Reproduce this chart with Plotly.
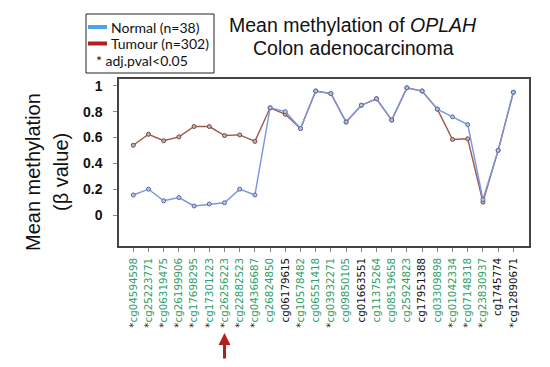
import plotly.graph_objects as go

probes = ["cg04594598", "cg25223771", "cg06319475", "cg26199906", "cg17698295",
          "cg17301223", "cg26256223", "cg22882523", "cg04366687", "cg26824850",
          "cg06179615", "cg10578482", "cg06551418", "cg03932271", "cg09850105",
          "cg01663551", "cg11375264", "cg08519658", "cg25924823", "cg17951388",
          "cg03309898", "cg01042334", "cg07148318", "cg23830937", "cg1745774",
          "cg12890671"]
significant = [1, 1, 1, 1, 1, 1, 1, 1, 1, 0, 0, 1, 0, 1, 0, 0, 0, 0, 0, 0, 0, 1, 1, 1, 0, 1]
label_green = [1, 1, 1, 1, 1, 1, 1, 1, 1, 1, 0, 1, 1, 1, 1, 0, 1, 1, 1, 0, 1, 1, 1, 1, 0, 0]

normal = [0.155, 0.20, 0.11, 0.135, 0.07, 0.085, 0.095, 0.20, 0.155, 0.83,
          0.80, 0.67, 0.96, 0.94, 0.72, 0.85, 0.90, 0.735, 0.985, 0.96,
          0.82, 0.76, 0.70, 0.12, 0.50, 0.95]
tumour = [0.54, 0.625, 0.575, 0.605, 0.685, 0.685, 0.615, 0.62, 0.57, 0.83,
          0.78, 0.67, 0.96, 0.94, 0.72, 0.85, 0.90, 0.735, 0.985, 0.96,
          0.82, 0.585, 0.59, 0.10, 0.50, 0.95]

y_ticks = [0, 0.2, 0.4, 0.6, 0.8, 1]
y_ticktext = ["0", "0.2", "0.4", "0.6", "0.8", "1"]

GREEN = "#2fa067"
ticktext = []
for p, s, g in zip(probes, significant, label_green):
    col = GREEN if g else "#111111"
    star = "<span style='color:#222'>*</span>" if s else ""
    ticktext.append(f"{star}<span style='color:{col}'>{p}</span>")

xs = list(range(len(probes)))

fig = go.Figure()
fig.add_trace(go.Scatter(x=xs, y=tumour, mode="lines+markers", name="Tumour (n=302)",
                         line=dict(color="#a05848", width=1.4),
                         marker=dict(size=4, color="#c9b0a8", line=dict(color="#6b4a48", width=1))))
fig.add_trace(go.Scatter(x=xs, y=normal, mode="lines+markers", name="Normal (n=38)",
                         line=dict(color="#7b95e2", width=1.4),
                         marker=dict(size=4, color="#b8c2e4", line=dict(color="#5a6aa0", width=1))))

W, H = 550, 367
L, R, T, B = 119, 529, 79, 246

def px(x):
    return (x - L) / (R - L)

def py(y):
    return (B - y) / (B - T)

shapes = [
    dict(type="rect", xref="paper", yref="paper", x0=px(86), x1=px(214), y0=py(73), y1=py(14),
         line=dict(color="#222", width=1), fillcolor="white"),
    dict(type="line", xref="paper", yref="paper", x0=px(88), x1=px(107), y0=py(27), y1=py(27),
         line=dict(color="#4aa3e6", width=4)),
    dict(type="line", xref="paper", yref="paper", x0=px(88), x1=px(107), y0=py(43.5), y1=py(43.5),
         line=dict(color="#b0201c", width=4)),
]

LEG_FONT = dict(family="Lato", size=14, color="#111")
annotations = [
    dict(text="Normal (n=38)", x=px(109), y=py(27), xref="paper", yref="paper", showarrow=False,
         xanchor="left", yanchor="middle", font=LEG_FONT),
    dict(text="Tumour (n=302)", x=px(109), y=py(43.5), xref="paper", yref="paper", showarrow=False,
         xanchor="left", yanchor="middle", font=LEG_FONT),
    dict(text="* adj.pval<0.05", x=px(94), y=py(60), xref="paper", yref="paper", showarrow=False,
         xanchor="left", yanchor="middle", font=LEG_FONT),
    dict(text="Mean methylation of <i>OPLAH</i>", x=px(353), y=py(25), xref="paper", yref="paper",
         showarrow=False, xanchor="center", yanchor="middle",
         font=dict(family="Liberation Sans", size=19.5, color="#111")),
    dict(text="Colon adenocarcinoma", x=px(353), y=py(48), xref="paper", yref="paper",
         showarrow=False, xanchor="center", yanchor="middle",
         font=dict(family="Liberation Sans", size=19.5, color="#111")),
    dict(text="Mean methylation", x=px(33), y=py(172), xref="paper", yref="paper", showarrow=False,
         textangle=-90, xanchor="center", yanchor="middle",
         font=dict(family="Liberation Sans", size=20, color="#111")),
    dict(text="(β value)", x=px(61), y=py(172), xref="paper", yref="paper", showarrow=False,
         textangle=-90, xanchor="center", yanchor="middle",
         font=dict(family="Liberation Sans", size=20, color="#111")),
    dict(text="", x=6, y=py(333), xref="x", yref="paper", showarrow=True,
         ax=0, ay=27, arrowhead=2, arrowsize=0.8, arrowwidth=3, arrowcolor="#b3201a"),
]

fig.update_layout(
    width=W, height=H,
    margin=dict(l=L, r=W - R, t=T, b=H - B),
    paper_bgcolor="white", plot_bgcolor="white",
    showlegend=False,
    shapes=shapes, annotations=annotations,
    xaxis=dict(range=[-0.94, 26.03], tickvals=xs, ticktext=ticktext, tickangle=-90,
               tickfont=dict(family="DejaVu Sans", size=10.3),
               showgrid=False, zeroline=False, showline=True, mirror=True,
               linecolor="#444", linewidth=1.5, ticks="outside", ticklen=4, tickcolor="#888",
               ticklabelstandoff=2),
    yaxis=dict(range=[-0.24, 1.053], tickvals=y_ticks, ticktext=y_ticktext,
               tickfont=dict(family="Liberation Sans", size=14, color="#111", weight="bold"),
               showgrid=False, zeroline=False, showline=True, mirror=True,
               linecolor="#444", linewidth=1.5, ticks="outside", ticklen=4, tickcolor="#888",
               ticklabelstandoff=8),
)

fig.write_html("out.html", config={"displayModeBar": False},
               post_script="document.body.style.margin='0';")
